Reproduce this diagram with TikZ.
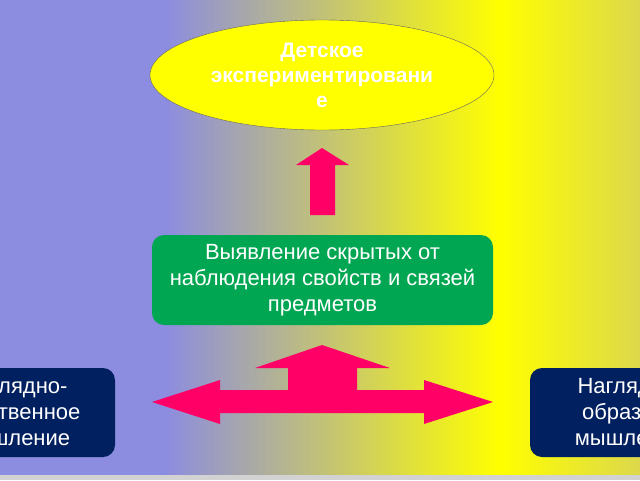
\documentclass[tikz,border=0pt]{standalone}
\usepackage{fontspec}
\setmainfont{Liberation Sans}
\usetikzlibrary{shapes.geometric}
\definecolor{bgblue}{HTML}{8C8CE0}
\definecolor{bgyel}{HTML}{FFFF00}
\definecolor{bgolive}{HTML}{DCD84C}
\definecolor{arr}{HTML}{FF0066}
\definecolor{gbox}{HTML}{00A651}
\definecolor{navy}{HTML}{002060}
\tikzset{
  txt/.style={text=white,font=\fontsize{22}{26}\selectfont,align=center},
  darkbox/.style={fill=navy,rounded corners=12pt,minimum width=200pt,minimum height=89pt,txt},
  fat/.style={fill=arr,draw=none}
}
\begin{document}
\begin{tikzpicture}[x=1pt,y=-1pt]
\useasboundingbox (0,0) rectangle (640,480);
\begin{scope}
\clip (0,0) rectangle (640,480);
\fill[bgblue] (0,0) rectangle (166,475);
\shade[left color=bgblue,right color=bgyel] (165,0) rectangle (501,475);
\shade[left color=bgyel,right color=bgolive] (500,0) rectangle (640,475);
\fill[gray!35] (0,475) rectangle (640,480);
\node[darkbox] (L) at (15,412.5) {Наглядно-\\действенное\\мышление};
\node[darkbox] (R) at (630,412.5) {Наглядно-\\образное\\мышление};
\end{scope}
\node[ellipse,draw=black!60,fill=bgyel,minimum width=344pt,minimum height=110pt,inner sep=0pt,txt,font=\fontsize{21}{25}\selectfont\bfseries] (E) at (322,75) {Детское\\экспериментировани\\е};
\node[fill=gbox,rounded corners=12pt,minimum width=341pt,minimum height=90pt,txt] (G) at (322.5,280) {Выявление скрытых от\\наблюдения свойств и связей\\предметов};
\fill[fat] (310,215) -- (310,165) -- (296,165) -- (322,148) -- (349,165) -- (335,165) -- (335,215) -- cycle;
\fill[fat] (152,402) -- (220,380) -- (220,390) -- (288,390) -- (288,368) -- (255,368) -- (322,345) -- (390,368) -- (357,368) -- (357,390) -- (424,390) -- (424,380) -- (493,402) -- (424,424) -- (424,413) -- (220,413) -- (220,424) -- cycle;
\end{tikzpicture}
\end{document}
